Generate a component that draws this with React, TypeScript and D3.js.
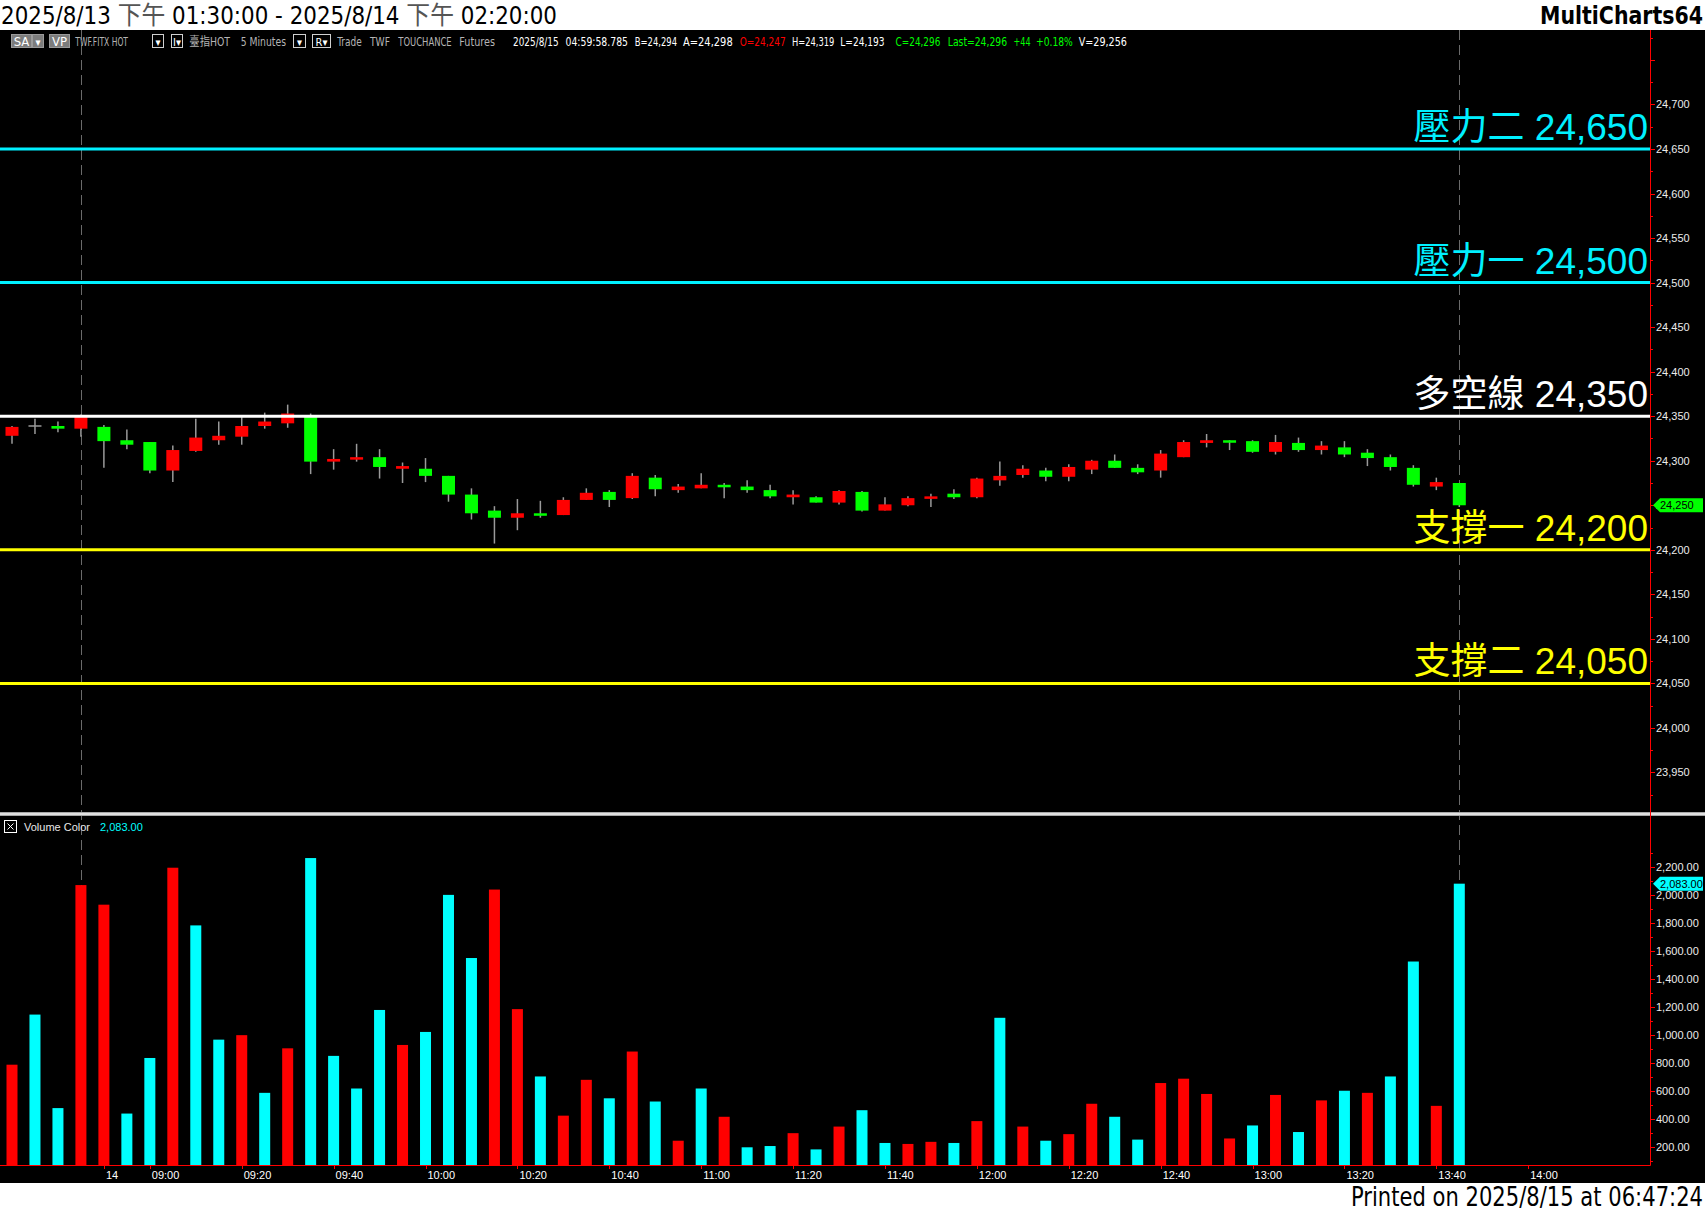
import { useEffect, useRef } from "react";
import * as d3 from "d3";

// 5-minute bars, 4 night bars then the 8/14 day session (08:50 .. 13:45)
const OPEN = [
  24328, 24339, 24339, 24336, 24338, 24323, 24321, 24289, 24311, 24323, 24327, 24339, 24342, 24351, 24299, 24302,
  24304, 24291, 24291, 24283, 24262, 24244, 24236, 24241, 24239, 24256, 24265, 24258, 24281, 24267, 24269, 24273,
  24271, 24267, 24259, 24259, 24253, 24265, 24244, 24250, 24258, 24263, 24259, 24278, 24284, 24289, 24282, 24290,
  24300, 24292, 24289, 24304, 24320, 24323, 24322, 24310, 24320, 24312, 24315, 24309, 24304, 24292, 24271, 24275,
];
const HIGH = [
  24339, 24347, 24344, 24352, 24340, 24335, 24321, 24317, 24347, 24344, 24349, 24354, 24363, 24353, 24313, 24319,
  24313, 24298, 24303, 24283, 24269, 24249, 24257, 24255, 24259, 24269, 24267, 24286, 24284, 24274, 24286, 24275,
  24278, 24273, 24267, 24260, 24267, 24266, 24259, 24260, 24263, 24268, 24281, 24299, 24295, 24292, 24296, 24301,
  24307, 24296, 24312, 24323, 24330, 24323, 24323, 24329, 24326, 24322, 24322, 24313, 24307, 24295, 24281, 24275,
];
const LOW = [
  24319, 24330, 24332, 24327, 24292, 24313, 24286, 24276, 24310, 24318, 24318, 24336, 24337, 24285, 24290, 24299,
  24280, 24275, 24276, 24254, 24234, 24207, 24222, 24236, 24239, 24256, 24248, 24257, 24260, 24264, 24269, 24258,
  24264, 24258, 24251, 24253, 24251, 24243, 24244, 24249, 24248, 24257, 24258, 24272, 24281, 24277, 24277, 24285,
  24292, 24285, 24281, 24304, 24315, 24312, 24309, 24307, 24310, 24307, 24304, 24294, 24289, 24271, 24267, 24248,
];
const CLOSE = [
  24338, 24339, 24336, 24350, 24322, 24318, 24289, 24312, 24326, 24328, 24339, 24344, 24353, 24299, 24302, 24304,
  24293, 24294, 24283, 24262, 24241, 24236, 24241, 24239, 24256, 24264, 24256, 24283, 24268, 24271, 24273, 24271,
  24267, 24260, 24262, 24253, 24266, 24244, 24251, 24258, 24260, 24259, 24280, 24283, 24291, 24282, 24293, 24300,
  24292, 24287, 24308, 24321, 24323, 24321, 24310, 24321, 24312, 24317, 24307, 24303, 24293, 24273, 24276, 24250,
];
const VOLUME = [
  790, 1148, 480, 2073, 1933, 441, 838, 2197, 1785, 969, 1001, 589, 907, 2266, 853, 620,
  1181, 931, 1024, 2003, 1552, 2041, 1187, 706, 426, 682, 550, 884, 527, 247, 620, 418,
  200, 209, 301, 185, 348, 465, 231, 224, 239, 231, 387, 1125, 348, 247, 294, 511,
  418, 255, 659, 690, 581, 263, 356, 574, 309, 535, 604, 589, 706, 1527, 496, 2083,
];
// 1 = up volume (red), 0 = down volume (cyan)
const VOLUME_UP = [
  1, 0, 0, 1, 1, 0, 0, 1, 0, 0, 1, 0, 1, 0, 0, 0,
  0, 1, 0, 0, 0, 1, 1, 0, 1, 1, 0, 1, 0, 1, 0, 1,
  0, 0, 1, 0, 1, 0, 0, 1, 1, 0, 1, 0, 1, 0, 1, 1,
  0, 0, 1, 1, 1, 1, 0, 1, 0, 1, 0, 1, 0, 0, 1, 0,
];

const LEVEL_NAMES = ["壓力二", "壓力一", "多空線", "支撐一", "支撐二"];
const LEVEL_VALUES = [24650, 24500, 24350, 24200, 24050];
const LEVEL_KINDS = ["resist", "resist", "pivot", "support", "support"];

const PRICE_TICKS = [23950, 24000, 24050, 24100, 24150, 24200, 24250, 24300, 24350, 24400, 24450, 24500, 24550, 24600, 24650, 24700];
const VOLUME_TICKS = [200, 400, 600, 800, 1000, 1200, 1400, 1600, 1800, 2000, 2200];
const TIME_TICKS = ["14", "09:00", "09:20", "09:40", "10:00", "10:20", "10:40", "11:00", "11:20", "11:40", "12:00", "12:20", "12:40", "13:00", "13:20", "13:40", "14:00"];
const DAY_FIRST_BAR = 4; // first bar of 8/14 day session (08:50)
const MARK_BARS = [3, 63];

const LAST_PRICE = 24250;
const LAST_VOLUME = 2083;

const SANS = "'Liberation Sans', Arial, 'Noto Sans CJK TC', sans-serif";
const NARROW = "'Liberation Sans Narrow', 'Arial Narrow', 'DejaVu Sans Condensed', 'Noto Sans CJK TC', sans-serif";

const tickBar = (t: string) => {
  if (!t.includes(":")) return DAY_FIRST_BAR;
  const [h, m] = t.split(":").map(Number);
  return DAY_FIRST_BAR + (h * 60 + m - (8 * 60 + 50)) / 5;
};

export default function App() {
  const ref = useRef<SVGSVGElement>(null);

  useEffect(() => {
    document.body.style.margin = "0";
    const el = ref.current;
    if (!el) return;
    const W = 1705, H = 1211;
    const top = 30, bottom = 1183, axisX = 1650, sepY = 814, volBase = 1165;
    const svg = d3.select(el);
    svg.selectAll("*").remove();

    svg.append("rect").attr("width", W).attr("height", H).attr("fill", "#fff");
    svg.append("rect").attr("y", top).attr("width", W).attr("height", bottom - top).attr("fill", "#000");

    const n = CLOSE.length;
    const x = d3.scaleLinear().domain([0, n - 1]).range([12, 1459.3]);
    const y = d3.scaleLinear().domain([24050, 24650]).range([683.4, 149]);
    const yv = d3.scaleLinear().domain([200, 2200]).range([1147.3, 867.3]);
    const fmt = d3.format(",");
    const fmt2 = d3.format(",.2f");
    const levelColor: Record<string, string> = { resist: "#00F0FF", pivot: "#FFFFFF", support: "#FFFF00" };

    // header
    const title = svg.append("text").attr("x", 1).attr("y", 24).attr("font-family", NARROW).attr("font-size", 25)
      .attr("fill", "#000").attr("textLength", 556).attr("lengthAdjust", "spacingAndGlyphs").style("white-space", "pre");
    [["2025/8/13 ", "#000"], ["下午", "#555"], [" 01:30:00 - 2025/8/14 ", "#000"], ["下午", "#555"], [" 02:20:00", "#000"]]
      .forEach(([t, c]) => title.append("tspan").attr("fill", c).text(t));
    svg.append("text").attr("x", 1703).attr("y", 24).attr("text-anchor", "end").attr("font-family", NARROW)
      .attr("font-size", 24).attr("font-weight", "bold").attr("textLength", 163).attr("lengthAdjust", "spacingAndGlyphs")
      .text("MultiCharts64");
    svg.append("text").attr("x", 1703).attr("y", 1206).attr("text-anchor", "end").attr("font-family", NARROW)
      .attr("font-size", 26).attr("textLength", 352).attr("lengthAdjust", "spacingAndGlyphs")
      .text("Printed on 2025/8/15 at 06:47:24");

    // dashed marker lines
    svg.append("g").selectAll("line").data(MARK_BARS).join("line")
      .attr("x1", (d) => Math.round(x(d)) + 0.5).attr("x2", (d) => Math.round(x(d)) + 0.5)
      .attr("y1", top).attr("y2", volBase).attr("stroke", "#6a6a6a").attr("stroke-dasharray", "10 5");

    // toolbar
    const tb = svg.append("g").attr("font-family", NARROW).attr("font-size", 12);
    const boxes: [number, number, string, boolean][] = [
      [11, 31, "SA", true], [32, 43, "▾", true], [49, 69, "VP", true],
      [152, 163, "▾", false], [171, 182, "I▾", false], [293, 305, "▾", false], [312, 330, "R▾", false],
    ];
    boxes.forEach(([a, b, t, filled]) => {
      tb.append("rect").attr("x", a + 0.5).attr("y", 34.5).attr("width", b - a).attr("height", 13)
        .attr("fill", filled ? "#7c7c7c" : "#000").attr("stroke", filled ? "#9a9a9a" : "#d0d0d0");
      tb.append("text").attr("x", (a + b) / 2 + 0.5).attr("y", 45.5).attr("text-anchor", "middle")
        .attr("fill", "#fff").attr("font-size", t.length === 2 && t !== "I▾" && t !== "R▾" ? 13 : 11).text(t);
    });
    const segs: [string, number, number, string][] = [
      ["TWF.FITX HOT", 75.3, 128, "#b4b4b4"], ["臺指HOT", 189.3, 230, "#b4b4b4"], ["5 Minutes", 240.7, 286, "#b4b4b4"],
      ["Trade", 337.3, 361.7, "#b4b4b4"], ["TWF", 370, 390, "#b4b4b4"], ["TOUCHANCE", 398.3, 451.7, "#b4b4b4"],
      ["Futures", 459.3, 495, "#b4b4b4"], ["2025/8/15", 513, 558.7, "#fff"], ["04:59:58.785", 565.5, 628, "#fff"],
      ["B=24,294", 634.7, 677, "#fff"], ["A=24,298", 683, 732.7, "#fff"], ["O=24,247", 739.8, 785.7, "#ff0000"],
      ["H=24,319", 792, 834.4, "#fff"], ["L=24,193", 840.3, 884.6, "#fff"], ["C=24,296", 895.6, 940.3, "#00ff00"],
      ["Last=24,296", 947.8, 1007, "#00ff00"], ["+44", 1013.5, 1030.5, "#00ff00"], ["+0.18%", 1036, 1072.8, "#00ff00"],
      ["V=29,256", 1078.7, 1127, "#fff"],
    ];
    segs.forEach(([t, a, b, c]) => {
      tb.append("text").attr("x", a).attr("y", 45.5).attr("fill", c).attr("textLength", b - a)
        .attr("lengthAdjust", "spacingAndGlyphs").text(t);
    });

    // candles
    const idx = d3.range(n);
    const cg = svg.append("g");
    cg.selectAll("line.wick").data(idx).join("line")
      .attr("x1", (i) => x(i)).attr("x2", (i) => x(i)).attr("y1", (i) => y(HIGH[i])).attr("y2", (i) => y(LOW[i]))
      .attr("stroke", "#9a9a9a").attr("stroke-width", 1.5);
    cg.selectAll("rect.body").data(idx.filter((i) => OPEN[i] !== CLOSE[i])).join("rect")
      .attr("x", (i) => x(i) - 6.5).attr("width", 13)
      .attr("y", (i) => y(Math.max(OPEN[i], CLOSE[i])))
      .attr("height", (i) => Math.max(2.5, Math.abs(y(OPEN[i]) - y(CLOSE[i]))))
      .attr("fill", (i) => (CLOSE[i] > OPEN[i] ? "#ff0000" : "#00ff00"));
    cg.selectAll("line.doji").data(idx.filter((i) => OPEN[i] === CLOSE[i])).join("line")
      .attr("x1", (i) => x(i) - 6.5).attr("x2", (i) => x(i) + 6.5).attr("y1", (i) => y(OPEN[i])).attr("y2", (i) => y(OPEN[i]))
      .attr("stroke", "#9a9a9a").attr("stroke-width", 1.5);

    // support / resistance levels
    const lv = svg.append("g");
    lv.selectAll("line").data(LEVEL_VALUES).join("line")
      .attr("x1", 0).attr("x2", axisX).attr("y1", (d) => y(d)).attr("y2", (d) => y(d))
      .attr("stroke", (_, i) => levelColor[LEVEL_KINDS[i]]).attr("stroke-width", 3);
    lv.selectAll("text").data(LEVEL_VALUES).join("text")
      .attr("x", 1648).attr("y", (d) => y(d) - 9).attr("text-anchor", "end")
      .attr("font-family", SANS).attr("font-size", 37).attr("fill", (_, i) => levelColor[LEVEL_KINDS[i]])
      .text((d, i) => `${LEVEL_NAMES[i]} ${fmt(d)}`);

    // panel separator
    svg.append("rect").attr("x", 0).attr("y", sepY - 2).attr("width", W).attr("height", 4).attr("fill", "#a8a8a8");
    svg.append("line").attr("x1", 0).attr("x2", W).attr("y1", sepY).attr("y2", sepY).attr("stroke", "#f4f4f4").attr("stroke-width", 1.5);

    // volume
    svg.append("g").selectAll("rect").data(idx).join("rect")
      .attr("x", (i) => x(i) - 5.5).attr("width", 11)
      .attr("y", (i) => yv(VOLUME[i])).attr("height", (i) => volBase - yv(VOLUME[i]))
      .attr("fill", (i) => (VOLUME_UP[i] ? "#ff0000" : "#00ffff"));
    const vh = svg.append("g").attr("font-family", SANS).attr("font-size", 11);
    vh.append("rect").attr("x", 4.5).attr("y", 820.5).attr("width", 12).attr("height", 12).attr("fill", "none").attr("stroke", "#fff");
    vh.append("path").attr("d", "M7.5,823.5L13.5,829.5M13.5,823.5L7.5,829.5").attr("stroke", "#fff");
    vh.append("text").attr("x", 24).attr("y", 831).attr("fill", "#e8e8e8").text("Volume Color");
    vh.append("text").attr("x", 100).attr("y", 831).attr("fill", "#00ffff").text(fmt2(LAST_VOLUME));

    // axes
    const ax = svg.append("g").attr("font-family", SANS).attr("font-size", 11);
    ax.append("line").attr("x1", axisX + 0.5).attr("x2", axisX + 0.5).attr("y1", top).attr("y2", volBase + 0.5).attr("stroke", "#ff0000");
    ax.append("line").attr("x1", 0).attr("x2", axisX + 0.5).attr("y1", volBase + 0.5).attr("y2", volBase + 0.5).attr("stroke", "#ff0000");

    const minorP = d3.range(23925, 24776, 25).filter((v) => y(v) > top + 2 && y(v) < sepY - 4);
    ax.selectAll("line.pt").data(minorP).join("line")
      .attr("x1", axisX).attr("x2", (v) => axisX + (v % 50 === 0 ? 5 : 3))
      .attr("y1", (v) => Math.round(y(v)) + 0.5).attr("y2", (v) => Math.round(y(v)) + 0.5).attr("stroke", "#ff0000");
    ax.selectAll("text.pl").data(PRICE_TICKS).join("text")
      .attr("x", axisX + 6).attr("y", (v) => y(v) + 4).attr("fill", "#ececec").text((v) => fmt(v));

    const minorV = d3.range(100, 2301, 100);
    ax.selectAll("line.vt").data(minorV).join("line")
      .attr("x1", axisX).attr("x2", (v) => axisX + (v % 200 === 0 ? 5 : 3))
      .attr("y1", (v) => Math.round(yv(v)) + 0.5).attr("y2", (v) => Math.round(yv(v)) + 0.5).attr("stroke", "#ff0000");
    ax.selectAll("text.vl").data(VOLUME_TICKS).join("text")
      .attr("x", axisX + 6).attr("y", (v) => yv(v) + 4).attr("fill", "#ececec").text((v) => fmt2(v));

    ax.selectAll("line.tt").data(TIME_TICKS).join("line")
      .attr("x1", (t) => Math.round(x(tickBar(t))) + 0.5).attr("x2", (t) => Math.round(x(tickBar(t))) + 0.5)
      .attr("y1", volBase).attr("y2", volBase + 4).attr("stroke", "#ff0000");
    ax.selectAll("text.tl").data(TIME_TICKS).join("text")
      .attr("x", (t) => x(tickBar(t)) + 2).attr("y", 1179).attr("fill", "#fff").text((t) => t);

    // last value markers
    const marker = (yc: number, fill: string, label: string) => {
      ax.append("path")
        .attr("d", `M${axisX + 3},${yc}L${axisX + 10},${yc - 7}L${W - 2},${yc - 7}L${W - 2},${yc + 7}L${axisX + 10},${yc + 7}Z`)
        .attr("fill", fill);
      ax.append("text").attr("x", axisX + 10).attr("y", yc + 4).attr("fill", "#000").text(label);
    };
    marker(y(LAST_PRICE), "#00ff00", fmt(LAST_PRICE));
    marker(yv(LAST_VOLUME), "#00ffff", fmt2(LAST_VOLUME));
  }, []);

  return <svg ref={ref} width={1705} height={1211} style={{ display: "block" }} role="img" aria-label="TWF.FITX 5 minute chart" />;
}
